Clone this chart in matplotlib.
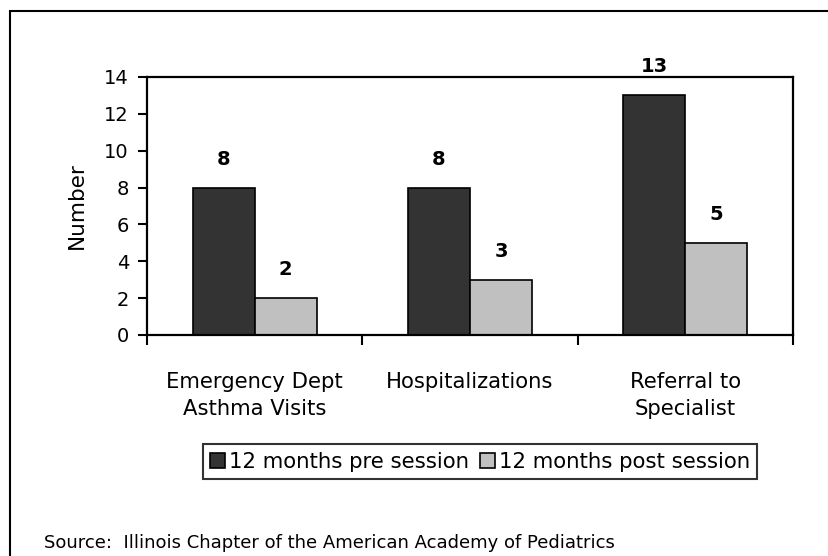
import numpy as np
import matplotlib
matplotlib.use('Agg')
import matplotlib.pyplot as plt
from matplotlib.patches import Rectangle

# reference font is wide for its height, DejaVu Sans fits the text widths better
plt.rcParams['font.family'] = ['DejaVu Sans']

# data
categories = ['Emergency Dept\nAsthma Visits', 'Hospitalizations', 'Referral to\nSpecialist']
pre_vals = [8, 8, 13]
post_vals = [2, 3, 5]
series_names = ['12 months pre session', '12 months post session']
source_note = 'Source:  Illinois Chapter of the American Academy of Pediatrics'

W, H = 829, 556
fig = plt.figure(figsize=(W/100, H/100), dpi=100)
ax = fig.add_axes([147/W, 1-335/H, (793-147)/W, (335-77)/H])

x = np.arange(len(categories))
bw = 0.288
b1 = ax.bar(x-bw/2, pre_vals, bw, color='#333333', edgecolor='black', linewidth=1.2, label=series_names[0])
b2 = ax.bar(x+bw/2, post_vals, bw, color='#c0c0c0', edgecolor='black', linewidth=1.2, label=series_names[1])

for bars in (b1, b2):
    for r in bars:
        ax.annotate(str(int(r.get_height())), (r.get_x()+r.get_width()/2, r.get_height()),
                    xytext=(0, 20.5), textcoords='offset points', ha='center', va='center',
                    fontsize=14, fontweight='bold', annotation_clip=False)

ax.set_xlim(-0.5, 2.5)
ax.set_ylim(0, 14)
ax.set_yticks(range(0, 15, 2))
ax.set_xticks(x)
ax.set_xticklabels(categories, fontsize=15.2, linespacing=1.4)
ax.set_xticks([-0.5, 0.5, 1.5, 2.5], minor=True)
ax.tick_params(axis='x', which='major', length=0, pad=27)
ax.tick_params(axis='x', which='minor', length=7, width=1.5, direction='out')
ax.tick_params(axis='y', length=6.5, width=1.5, direction='out', labelsize=14, pad=6.5)
for s in ax.spines.values():
    s.set_linewidth(1.6)

fig.text(77/W, 1-206/H, 'Number', rotation=90, ha='center', va='center', fontsize=15.5)

leg = fig.legend(loc='center', bbox_to_anchor=(480/W, 1-461.5/H), ncol=2, fontsize=15.3,
                 frameon=True, fancybox=False, edgecolor='black', handlelength=0.7,
                 handleheight=0.7, handletextpad=0.2, columnspacing=0.5, borderpad=0.35)
leg.get_frame().set_linewidth(1.5)

fig.text(44/W, 1-543/H, source_note, ha='left', va='center', fontsize=13)

fig.patches.append(Rectangle((10/W, -0.1), 1.5, 1-11/H+0.1, transform=fig.transFigure,
                             fill=False, edgecolor='black', linewidth=1.5))

fig.savefig('out.png', dpi=100)
